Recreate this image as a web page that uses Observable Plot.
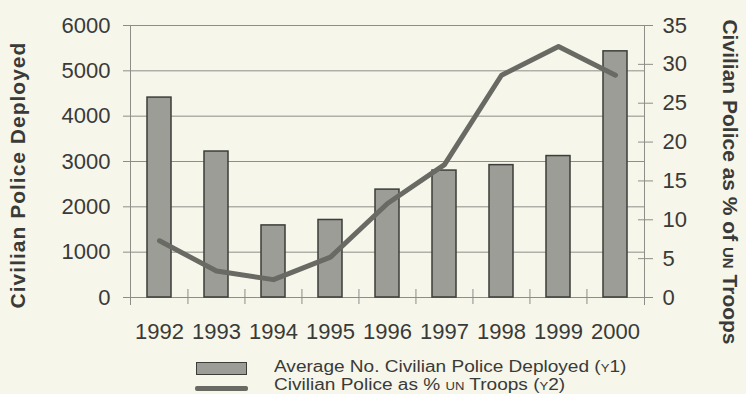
<!DOCTYPE html>
<html><head><meta charset="utf-8">
<script src="https://cdn.jsdelivr.net/npm/d3@7"></script>
<script src="https://cdn.jsdelivr.net/npm/@observablehq/plot@0.6"></script>
<style>
html,body{margin:0;padding:0;background:#f6f6ea;}
#wrap{position:relative;width:746px;height:394px;font-family:"Liberation Sans",Arial,sans-serif;color:#3a3a38;overflow:hidden;background:#f6f6ea;}
#chart{position:absolute;left:0;top:0;}
.ttl{position:absolute;font-weight:bold;font-size:21px;white-space:nowrap;line-height:1;}
.sc{font-variant:small-caps;}
.leg{position:absolute;font-size:16px;white-space:nowrap;line-height:18px;transform:scaleX(1.19);transform-origin:0 50%;}
.sw-bar{position:absolute;left:196px;top:362px;width:49px;height:11px;background:#9d9d98;border:1.5px solid #3d3d3a;}
.sw-line{position:absolute;left:195px;top:386px;width:53px;height:5px;background:#6a6a65;border-radius:2px;}
</style></head><body>
<div id="wrap">
<div id="chart"></div>
<div class="ttl" id="tl" style="left:17px;top:175px;letter-spacing:1px;transform:translate(-50%,-50%) rotate(-90deg);">Civilian Police Deployed</div>
<div class="ttl" id="tr" style="left:730px;top:182px;transform:translate(-50%,-50%) rotate(90deg);">Civilian Police as % of <span class="sc">un</span> Troops</div>
<div class="sw-bar"></div>
<div class="sw-line"></div>
<div class="leg" style="left:274px;top:358px;">Average No. Civilian Police Deployed (<span class="sc">y</span>1)</div>
<div class="leg" style="left:274px;top:376px;">Civilian Police as % <span class="sc">un</span> Troops (<span class="sc">y</span>2)</div>
</div>
<script>
const years = ["1992","1993","1994","1995","1996","1997","1998","1999","2000"];
const policeDeployed = [4410, 3220, 1590, 1710, 2380, 2800, 2920, 3120, 5430];
const pctOfTroops = [7.3, 3.4, 2.3, 5.2, 12.1, 17.1, 28.6, 32.3, 28.6];
const leftTicks = [0, 1000, 2000, 3000, 4000, 5000, 6000];
const rightTicks = [0, 5, 10, 15, 20, 25, 30, 35];

const K = 6000 / 35;
const data = years.map((y, i) => ({year: y, police: policeDeployed[i], pct: pctOfTroops[i]}));
const grid = "#8e8e88";
const ink = "#3a3a38";
const step = (746 - 130 - 102) / years.length;

const chart = Plot.plot({
  width: 746, height: 345,
  marginTop: 25, marginBottom: 48, marginLeft: 130, marginRight: 102,
  style: {background: "transparent", fontFamily: "'Liberation Sans', Arial, sans-serif", fontSize: "22px", color: ink},
  x: {type: "band", domain: years, paddingInner: 0.58, paddingOuter: 0.29, label: null},
  y: {domain: [0, 6000], label: null},
  marks: [
    Plot.ruleY(leftTicks, {stroke: grid, strokeWidth: 1}),
    Plot.frame({anchor: "left", stroke: grid, insetBottom: -7}),
    Plot.frame({anchor: "right", stroke: grid, insetBottom: -7}),
    Plot.ruleX(years.slice(1), {x: d => d, dx: -step / 2, insetTop: 264, insetBottom: -7, stroke: grid}),
    Plot.barY(data, {x: "year", y: "police", fill: "#9d9d98", stroke: "#3d3d3a", strokeWidth: 1.5}),
    Plot.line(data, {x: "year", y: d => d.pct * K, stroke: "#6a6a65", strokeWidth: 5, strokeLinejoin: "round"}),
    Plot.axisY({anchor: "left", ticks: leftTicks, tickFormat: d => String(d), tickSize: 7, tickPadding: 13, stroke: grid, fill: ink, label: null}),
    Plot.axisY({anchor: "right", ticks: rightTicks.map(v => v * K), tickFormat: d => String(Math.round(d / K)), tickSize: 15, dx: -7, tickPadding: 10, stroke: grid, fill: ink, label: null}),
    Plot.axisX({tickSize: 0, tickPadding: 26, fill: ink, label: null})
  ]
});
document.getElementById("chart").appendChild(chart);
</script>
</body></html>
